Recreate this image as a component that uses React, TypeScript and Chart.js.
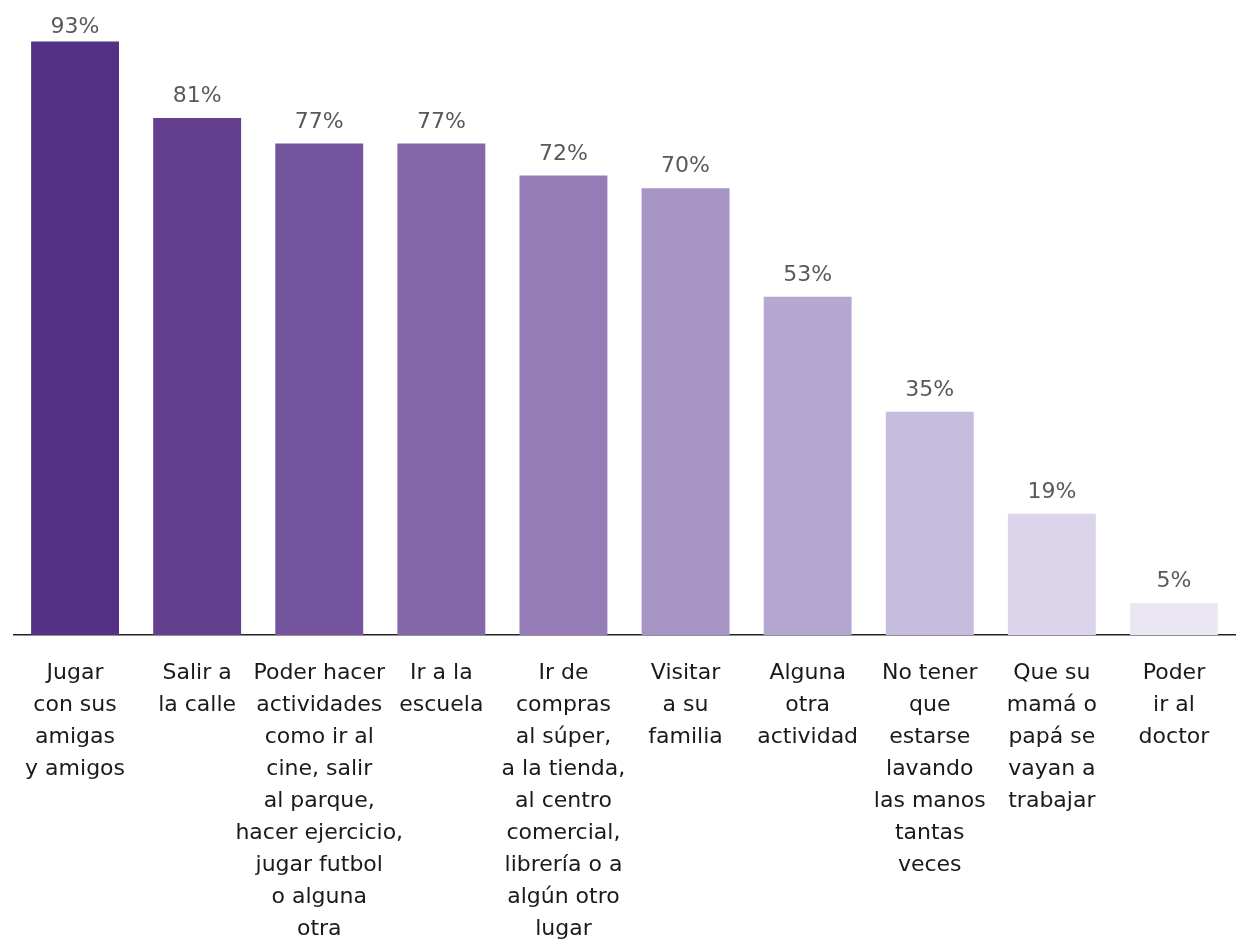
import React, { useEffect, useRef } from "react";
import { Chart, registerables } from "chart.js";

Chart.register(...registerables);

const categories: string[][] = [
  ["Jugar", "con sus", "amigas", "y amigos"],
  ["Salir a", "la calle"],
  ["Poder hacer", "actividades", "como ir al", "cine, salir", "al parque,", "hacer ejercicio,", "jugar futbol", "o alguna", "otra"],
  ["Ir a la", "escuela"],
  ["Ir de", "compras", "al súper,", "a la tienda,", "al centro", "comercial,", "librería o a", "algún otro", "lugar"],
  ["Visitar", "a su", "familia"],
  ["Alguna", "otra", "actividad"],
  ["No tener", "que", "estarse", "lavando", "las manos", "tantas", "veces"],
  ["Que su", "mamá o", "papá se", "vayan a", "trabajar"],
  ["Poder", "ir al", "doctor"],
];

const values: number[] = [93, 81, 77, 77, 72, 70, 53, 35, 19, 5];

const barColors: string[] = [
  "#553186",
  "#643F8F",
  "#74559D",
  "#8467A8",
  "#957DB7",
  "#A694C5",
  "#B6A7D1",
  "#C6BCDE",
  "#DBD4EB",
  "#EAE6F3",
];

const valueLabelPlugin = {
  id: "valueLabels",
  afterDatasetsDraw(chart: any) {
    const ctx = chart.ctx;
    const meta = chart.getDatasetMeta(0);
    ctx.save();
    ctx.font = "22px 'DejaVu Sans'";
    ctx.fillStyle = "#595959";
    ctx.textAlign = "center";
    ctx.textBaseline = "alphabetic";
    meta.data.forEach((bar: any, i: number) => {
      ctx.fillText(values[i] + "%", bar.x, Math.max(bar.y - 16, 33));
    });
    ctx.restore();
  },
};

export default function App() {
  const ref = useRef<HTMLCanvasElement | null>(null);

  useEffect(() => {
    if (!ref.current) return;
    const chart = new Chart(ref.current, {
      type: "bar",
      data: {
        labels: categories,
        datasets: [
          {
            data: values,
            backgroundColor: barColors,
            borderWidth: 0,
            barPercentage: 0.72,
            categoryPercentage: 1,
          },
        ],
      },
      options: {
        animation: false,
        responsive: false,
        layout: { padding: { left: 14, right: 9, top: 0, bottom: 0 } },
        plugins: {
          legend: { display: false },
          tooltip: { enabled: false },
          title: { display: false },
        },
        scales: {
          x: {
            grid: { display: false, drawTicks: false },
            border: { display: true, color: "#222222", width: 1.5 },
            ticks: {
              autoSkip: false,
              maxRotation: 0,
              minRotation: 0,
              padding: 22,
              color: "#1a1a1a",
              font: { family: "'DejaVu Sans'", size: 22, lineHeight: 1.455 },
            },
            afterFit: (scale: any) => {
              scale.height = 307;
            },
          },
          y: {
            display: false,
            min: 0,
            max: 99.5,
          },
        },
      },
      plugins: [valueLabelPlugin],
    });
    return () => chart.destroy();
  }, []);

  return (
    <div style={{ position: "absolute", left: 0, top: 0, width: 1244, height: 942, background: "#fff" }}>
      <canvas ref={ref} width={1244} height={942} style={{ display: "block" }} />
    </div>
  );
}
